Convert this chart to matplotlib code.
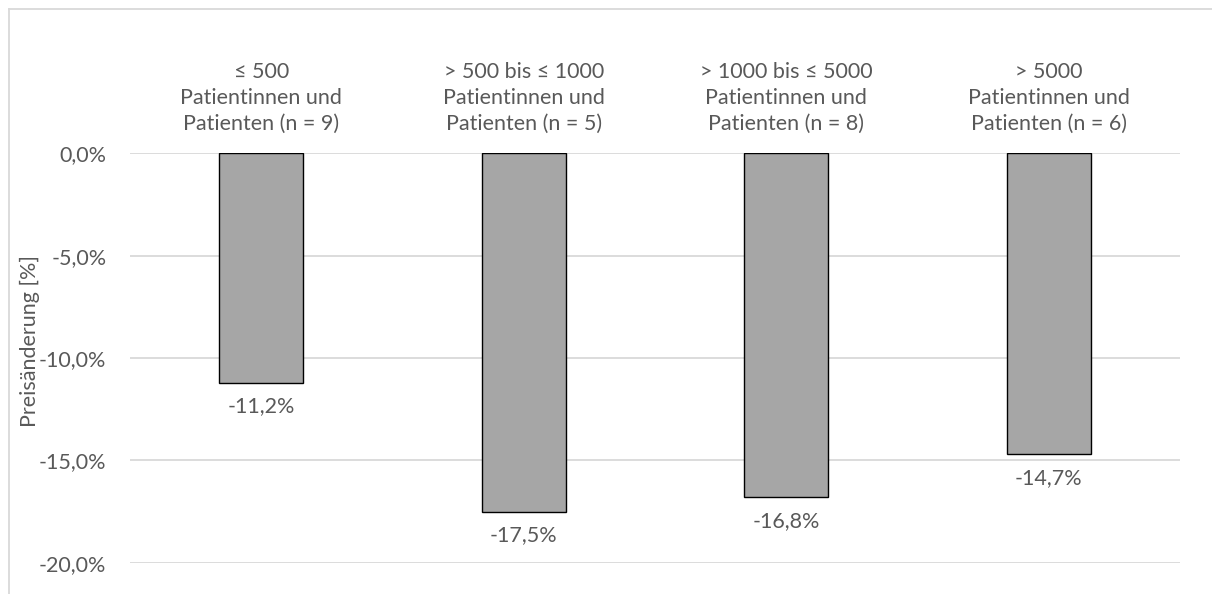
import matplotlib
matplotlib.use("Agg")
import matplotlib.pyplot as plt
from matplotlib.lines import Line2D

plt.rcParams['font.family'] = ['Lato', 'DejaVu Sans']

categories = [
    "\u2264 500\nPatientinnen und\nPatienten (n = 9)",
    "> 500 bis \u2264 1000\nPatientinnen und\nPatienten (n = 5)",
    "> 1000 bis \u2264 5000\nPatientinnen und\nPatienten (n = 8)",
    "> 5000\nPatientinnen und\nPatienten (n = 6)",
]
values = [-11.2, -17.5, -16.8, -14.7]
yticks = [0, -5, -10, -15, -20]
ylabel = "Preisänderung [%]"

text_color = "#595959"
grid_color = "#d9d9d9"
bar_color = "#a6a6a6"
fs = 15.5

W, H = 1212, 594
fig = plt.figure(figsize=(W / 100, H / 100), dpi=100)
ax = fig.add_axes([130 / W, 1 - 562.7 / H, 1050 / W, (562.7 - 153.3) / H])

x = range(len(values))
bars = ax.bar(x, values, width=0.32, color=bar_color, edgecolor="black",
              linewidth=1.0, zorder=3)

def fmt(v):
    return f"{v:.1f}%".replace(".", ",")

for xi, v in zip(x, values):
    ax.annotate(fmt(v), (xi, v), xytext=(0, -10), textcoords="offset points",
                ha="center", va="top", fontsize=fs, color=text_color)

ax.set_xlim(-0.5, len(values) - 0.5)
ax.set_ylim(-20, 0)
ax.set_yticks(yticks)
ax.set_yticklabels([fmt(t) for t in yticks], fontsize=fs, color=text_color)
ax.tick_params(axis="y", length=0, pad=17)
ax.yaxis.grid(True, color=grid_color, linewidth=1.3, zorder=0)
ax.set_axisbelow(True)

ax.xaxis.tick_top()
ax.set_xticks(list(x))
ax.set_xticklabels(categories, fontsize=fs, color=text_color, linespacing=1.36)
ax.tick_params(axis="x", length=0, pad=14)

for s in ax.spines.values():
    s.set_visible(False)

fig.text(30 / W, 1 - 341 / H, ylabel, rotation=90, ha="center", va="center",
         fontsize=fs, color=text_color)

# outer chart frame
fig.add_artist(Line2D([8.5 / W, 1.0], [1 - 8.5 / H] * 2, transform=fig.transFigure,
                      color=grid_color, linewidth=1.3))
fig.add_artist(Line2D([8.5 / W] * 2, [0.0, 1 - 8.5 / H], transform=fig.transFigure,
                      color=grid_color, linewidth=1.3))

fig.savefig("out.png", dpi=100, facecolor="white")
